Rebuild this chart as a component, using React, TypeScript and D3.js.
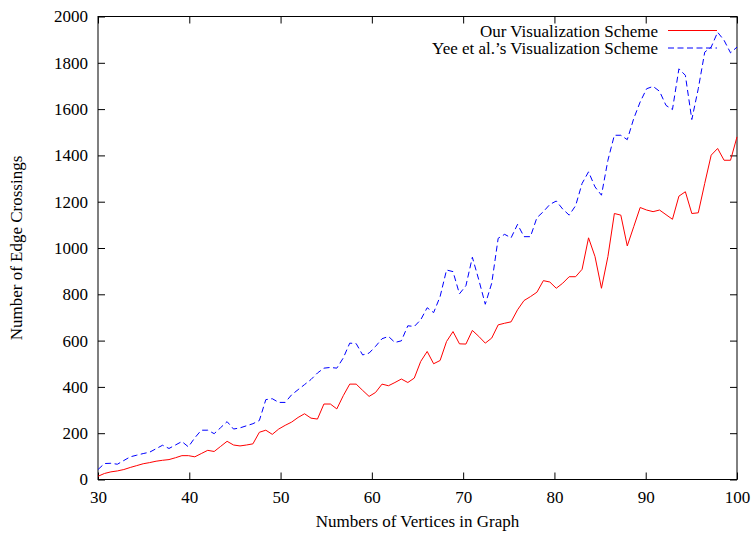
import React, { useEffect, useRef } from "react";
import * as d3 from "d3";

// edge crossings, 100 samples between 30 and 100 vertices
const ourScheme = [
  14, 26, 33, 37, 43, 52, 60, 68, 73, 79,
  83, 86, 94, 103, 103, 98, 112, 126, 121, 143,
  165, 149, 145, 149, 154, 204, 213, 195, 218, 234,
  248, 268, 284, 265, 261, 326, 326, 305, 362, 412,
  412, 385, 359, 376, 412, 405, 419, 434, 419, 438,
  510, 553, 500, 514, 596, 639, 586, 585, 644, 618,
  589, 611, 668, 675, 681, 733, 773, 790, 809, 859,
  853, 826, 848, 876, 876, 908, 1044, 963, 826, 963,
  1149, 1142, 1009, 1092, 1175, 1164, 1157, 1164, 1144, 1124,
  1224, 1243, 1149, 1152, 1279, 1401, 1430, 1379, 1379, 1480,
];

const yeeScheme = [
  43, 69, 70, 66, 82, 98, 105, 112, 118, 133,
  148, 134, 149, 164, 141, 180, 213, 213, 198, 224,
  250, 218, 223, 232, 241, 255, 345, 349, 333, 333,
  366, 388, 410, 432, 460, 481, 484, 481, 525, 589,
  587, 538, 546, 575, 608, 618, 592, 599, 664, 661,
  690, 742, 721, 790, 905, 898, 802, 837, 960, 862,
  757, 848, 1042, 1059, 1044, 1102, 1049, 1049, 1131, 1157,
  1188, 1203, 1168, 1142, 1183, 1279, 1329, 1264, 1228, 1379,
  1487, 1487, 1468, 1559, 1631, 1688, 1698, 1677, 1616, 1598,
  1774, 1746, 1555, 1688, 1846, 1868, 1932, 1897, 1843, 1868,
];

const xTicks = [30, 40, 50, 60, 70, 80, 90, 100];
const yTicks = [0, 200, 400, 600, 800, 1000, 1200, 1400, 1600, 1800, 2000];
const seriesNames = ["Our Visualization Scheme", "Yee et al.\u2019s Visualization Scheme"];

export default function App() {
  const ref = useRef<SVGSVGElement>(null);

  useEffect(() => {
    const svg = d3.select(ref.current);
    svg.selectAll("*").remove();

    const left = 98,
      right = 737,
      top = 16.5,
      bottom = 479.5;
    const font = "'Liberation Serif', 'Times New Roman', serif";
    const fontSize = 17;

    const x = d3.scaleLinear().domain([30, 100]).range([left, right]);
    const y = d3.scaleLinear().domain([0, 2000]).range([bottom, top]);

    // sample positions: evenly spaced vertex counts
    const xs = d3.range(ourScheme.length).map((i) => 30 + (i * 70) / (ourScheme.length - 1));

    const styleAxis = (g) => {
      g.select(".domain").remove();
      g.selectAll("line").attr("stroke", "#000");
      g.selectAll("text")
        .attr("font-family", font)
        .attr("font-size", fontSize)
        .attr("fill", "#000");
    };

    svg
      .append("g")
      .attr("transform", `translate(0, ${bottom})`)
      .call(
        d3.axisBottom(x).tickValues(xTicks).tickSizeInner(-7).tickSizeOuter(0).tickPadding(11).tickFormat(d3.format("d"))
      )
      .call(styleAxis);

    svg
      .append("g")
      .attr("transform", `translate(0, ${top})`)
      .call(d3.axisTop(x).tickValues(xTicks).tickSizeInner(-7).tickSizeOuter(0).tickFormat(() => ""))
      .call(styleAxis);

    svg
      .append("g")
      .attr("transform", `translate(${left}, 0)`)
      .call(
        d3.axisLeft(y).tickValues(yTicks).tickSizeInner(-7).tickSizeOuter(0).tickPadding(10).tickFormat(d3.format("d"))
      )
      .call(styleAxis);

    svg
      .append("g")
      .attr("transform", `translate(${right}, 0)`)
      .call(d3.axisRight(y).tickValues(yTicks).tickSizeInner(-7).tickSizeOuter(0).tickFormat(() => ""))
      .call(styleAxis);

    svg
      .append("rect")
      .attr("x", left)
      .attr("y", top)
      .attr("width", right - left)
      .attr("height", bottom - top)
      .attr("fill", "none")
      .attr("stroke", "#000");

    const line = d3
      .line<number>()
      .x((d, i) => x(xs[i]))
      .y((d) => y(d));

    svg
      .append("path")
      .datum(ourScheme)
      .attr("d", line)
      .attr("fill", "none")
      .attr("stroke", "#ff0000")
      .attr("stroke-width", 1);

    svg
      .append("path")
      .datum(yeeScheme)
      .attr("d", line)
      .attr("fill", "none")
      .attr("stroke", "#0000ff")
      .attr("stroke-width", 1)
      .attr("stroke-dasharray", "6,3.5");

    // legend
    const legend = svg.append("g");
    const colors = ["#ff0000", "#0000ff"];
    seriesNames.forEach((name, i) => {
      const ly = 30.5 + i * 17.5;
      legend
        .append("text")
        .attr("x", 658)
        .attr("y", ly + 6)
        .attr("text-anchor", "end")
        .attr("font-family", font)
        .attr("font-size", fontSize)
        .text(name);
      legend
        .append("line")
        .attr("x1", 668)
        .attr("x2", 717)
        .attr("y1", ly)
        .attr("y2", ly)
        .attr("stroke", colors[i])
        .attr("stroke-dasharray", i === 1 ? "6,3.5" : null);
    });

    svg
      .append("text")
      .attr("x", (left + right) / 2)
      .attr("y", 527)
      .attr("text-anchor", "middle")
      .attr("font-family", font)
      .attr("font-size", fontSize)
      .text("Numbers of Vertices in Graph");

    svg
      .append("text")
      .attr("transform", `translate(22, ${(top + bottom) / 2}) rotate(-90)`)
      .attr("text-anchor", "middle")
      .attr("font-family", font)
      .attr("font-size", fontSize)
      .text("Number of Edge Crossings");
  }, []);

  return (
    <svg
      ref={ref}
      width={754}
      height={535}
      style={{ position: "absolute", left: 0, top: 0, background: "#fff" }}
    ></svg>
  );
}
